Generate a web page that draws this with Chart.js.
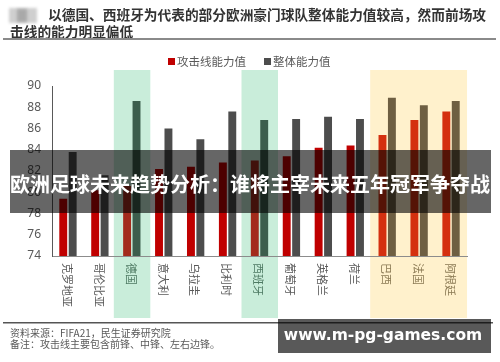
<!DOCTYPE html>
<html><head><meta charset="utf-8">
<script src="https://cdn.jsdelivr.net/npm/chart.js@4/dist/chart.umd.min.js"></script>
<style>html,body{margin:0;padding:0;background:#fff}#wrap{width:500px;height:362px;position:relative}</style>
</head><body><div id="wrap"><canvas id="c" width="500" height="362"></canvas></div>
<script>
const categories = ['克罗地亚','哥伦比亚','德国','意大利','乌拉圭','比利时','西班牙','葡萄牙','英格兰','荷兰','巴西','法国','阿根廷'];
const attackValues = [79.4, 80.2, 80.6, 82.2, 82.4, 82.8, 83.0, 83.4, 84.2, 84.4, 85.4, 86.8, 87.6];
const overallValues = [83.8, 81.6, 88.6, 86.0, 85.0, 87.6, 86.8, 86.9, 87.1, 86.9, 88.9, 88.2, 88.6];
const seriesNames = ['攻击线能力值', '整体能力值'];
const yTicks = [74, 76, 78, 80, 82, 84, 86, 88, 90];
const greenCats = [2, 6];
const yellowCats = [10, 11, 12];
const titleLine1 = '以德国、西班牙为代表的部分欧洲豪门球队整体能力值较高，然而前场攻';
const titleLine2 = '击线的能力明显偏低';
const sourceText = '资料来源：FIFA21，民生证券研究院';
const noteText = '备注：攻击线主要包含前锋、中锋、左右边锋。';
const overlayText = '欧洲足球未来趋势分析：谁将主宰未来五年冠军争夺战';
const siteText = 'www.m-pg-games.com';

const CJK = '"Noto Sans CJK SC", "Noto Sans", sans-serif';
function zoneOf(i){ return greenCats.includes(i) ? 'g' : (yellowCats.includes(i) ? 'y' : 'n'); }
const redCols = {n:'#C00000', g:'#A32B1C', y:'#D4300F'};
const darkCols = {n:'#4D4D4D', g:'#3C5E4D', y:'#6E5F42'};
const labelCols = {n:'#595959', g:'#4E7A63', y:'#8C7B55'};

const deco = {
  id: 'deco',
  beforeDraw(chart){
    const ctx = chart.ctx, x = chart.scales.x;
    ctx.save();
    ctx.fillStyle = '#fff'; ctx.fillRect(0,0,chart.width,chart.height);
    const top = 70, bot = 318;
    ctx.fillStyle = '#C9EDDA';
    greenCats.forEach(i => { const c = x.getPixelForValue(i); ctx.fillRect(c-18, top, 36.5, bot-top); });
    ctx.fillStyle = '#FFF1CC';
    const l = x.getPixelForValue(yellowCats[0]) - 17, r = x.getPixelForValue(yellowCats[yellowCats.length-1]) + 16;
    ctx.fillRect(l, top, r-l, bot-top);
    ctx.restore();
  },
  afterDraw(chart){
    const ctx = chart.ctx, x = chart.scales.x;
    ctx.save();
    // logo blob
    ctx.filter = 'blur(1.5px)';
    ctx.fillStyle = '#cfcfcf'; ctx.fillRect(9, 8, 28, 15);
    ctx.fillStyle = '#a9a9a9'; ctx.fillRect(17, 9, 10, 13);
    ctx.filter = 'none';
    // title
    ctx.fillStyle = '#333';
    ctx.font = 'bold 13.7px ' + CJK;
    ctx.textBaseline = 'middle'; ctx.textAlign = 'left';
    ctx.fillText(titleLine1, 48, 15);
    ctx.fillText(titleLine2, 10, 32);
    ctx.fillStyle = '#8a8a8a'; ctx.fillRect(3, 38, 493, 2);
    // legend
    ctx.font = '11.5px ' + CJK;
    ctx.fillStyle = redCols.n; ctx.fillRect(168, 58, 7, 7);
    ctx.fillStyle = '#595959'; ctx.fillText(seriesNames[0], 177, 62);
    ctx.fillStyle = darkCols.n; ctx.fillRect(264, 58, 7, 7);
    ctx.fillStyle = '#595959'; ctx.fillText(seriesNames[1], 273, 62);
    // category labels (rotated clockwise)
    ctx.font = '11px ' + CJK;
    categories.forEach((lab, i) => {
      const cx = x.getPixelForValue(i) - 1;
      ctx.save();
      ctx.translate(cx, 263);
      ctx.rotate(Math.PI/2);
      ctx.fillStyle = labelCols[zoneOf(i)];
      ctx.textAlign = 'left'; ctx.textBaseline = 'middle';
      ctx.fillText(lab, 0, 0);
      ctx.restore();
    });
    // footer
    ctx.fillStyle = '#555'; ctx.fillRect(3, 322, 490, 1.5);
    ctx.font = '10px ' + CJK;
    ctx.fillStyle = '#595959';
    ctx.fillText(sourceText, 10, 333);
    ctx.fillText(noteText, 10, 344);
    // overlay band
    ctx.fillStyle = 'rgba(0,0,0,0.6)';
    ctx.fillRect(10, 150, 481, 63);
    ctx.fillStyle = '#fff';
    ctx.font = 'bold 20px ' + CJK;
    ctx.textAlign = 'center';
    ctx.fillText(overlayText, 250, 184);
    // site box
    ctx.fillStyle = 'rgba(0,0,0,0.65)';
    ctx.fillRect(278, 319, 213, 34);
    ctx.fillStyle = '#fff';
    ctx.font = 'bold 15.5px "DejaVu Sans", sans-serif';
    ctx.fillText(siteText, 383, 336);
    ctx.restore();
  }
};

new Chart(document.getElementById('c'), {
  type: 'bar',
  data: {
    labels: categories,
    datasets: [
      { label: seriesNames[0], data: attackValues, backgroundColor: categories.map((_, i) => redCols[zoneOf(i)]), categoryPercentage: 0.59, barPercentage: 0.84 },
      { label: seriesNames[1], data: overallValues, backgroundColor: categories.map((_, i) => darkCols[zoneOf(i)]), categoryPercentage: 0.59, barPercentage: 0.84 }
    ]
  },
  options: {
    responsive: false,
    animation: false,
    devicePixelRatio: 1,
    layout: { padding: { top: 86, right: 33, bottom: 0, left: 0 } },
    plugins: { legend: { display: false }, tooltip: { enabled: false } },
    scales: {
      x: {
        grid: { display: false, drawTicks: false },
        border: { display: true, color: '#8c8c8c', width: 1 },
        ticks: { display: false },
        afterFit(s){ s.height = 106; }
      },
      y: {
        min: 74, max: 90,
        afterBuildTicks(s){ s.ticks = yTicks.map(v => ({ value: v })); },
        grid: { display: false, drawTicks: false },
        border: { display: true, color: '#595959', width: 1 },
        ticks: { padding: 11, color: '#595959', font: { size: 12, family: '"Noto Sans", sans-serif' } },
        afterFit(s){ s.width = 52; }
      }
    }
  },
  plugins: [deco]
});
</script>
</body></html>
